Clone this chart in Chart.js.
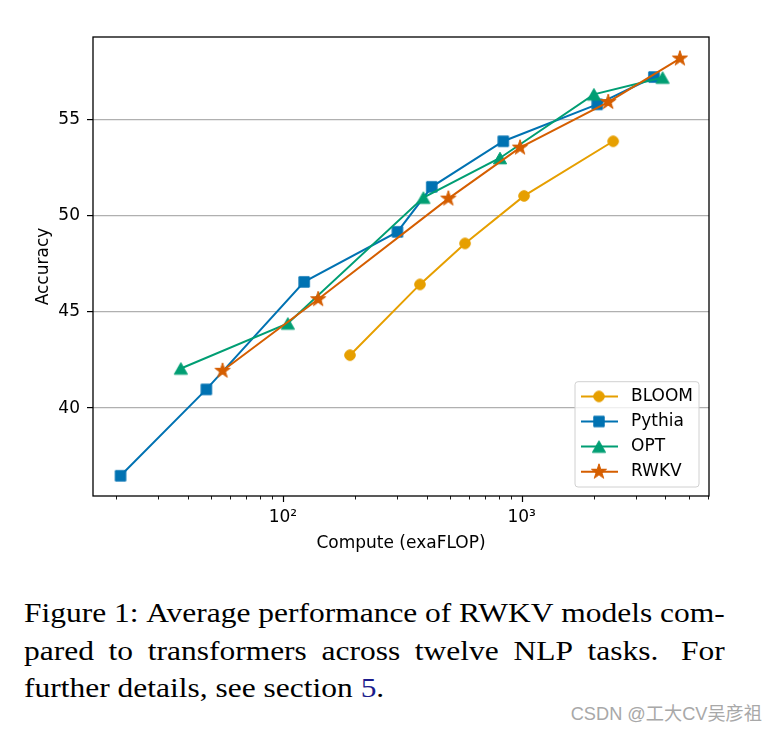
<!DOCTYPE html>
<html><head><meta charset="utf-8">
<script src="https://cdn.jsdelivr.net/npm/chart.js@4.4.0/dist/chart.umd.min.js"></script>
<style>
html,body{margin:0;padding:0;background:#fff;}
body{width:779px;height:734px;position:relative;overflow:hidden;}
#c{position:absolute;left:0;top:0;}
#cap{position:absolute;left:24px;top:594px;width:612px;font-family:'Liberation Serif','Times New Roman',serif;font-size:27.5px;line-height:37.7px;color:#000;transform:scaleX(1.145);transform-origin:0 0;}
#cap .j{display:flex;justify-content:space-between;white-space:nowrap;}
#cap .l{white-space:nowrap;}
#wm{position:absolute;right:17px;top:703px;font-family:'Liberation Sans','Noto Sans CJK SC',sans-serif;font-size:18.2px;line-height:22px;color:#a8a8a8;white-space:nowrap;}
</style>
</head><body>
<canvas id="c" width="779" height="560"></canvas>
<div id="cap">
<div class="j"><span>Figure</span><span>1:</span><span>Average</span><span>performance</span><span>of</span><span>RWKV</span><span>models</span><span>com-</span></div>
<div class="j"><span>pared</span><span>to</span><span>transformers</span><span>across</span><span>twelve</span><span>NLP</span><span>tasks.&nbsp;</span><span>For</span></div>
<div class="l">further details, see section <span style="color:#1c1c8c">5</span>.</div>
</div>
<div id="wm">CSDN @工大CV吴彦祖</div>
<script>
// ---- data ----
const seriesNames = ['BLOOM', 'Pythia', 'OPT', 'RWKV'];
const bloomX = [191, 375, 579, 1023, 2416];
const bloomY = [42.75, 46.43, 48.56, 51.03, 53.87];
const pythiaX = [20.9, 47.8, 122.8, 301.7, 420.2, 837.5, 2071, 3577];
const pythiaY = [36.48, 40.97, 46.56, 49.16, 51.50, 53.87, 55.79, 57.21];
const optX = [37.4, 104.9, 387.6, 811, 2006, 3890];
const optY = [42.06, 44.40, 50.94, 53.00, 56.31, 57.18];
const rwkvX = [55.9, 140.5, 493, 984, 2303, 4596];
const rwkvY = [41.94, 45.66, 50.89, 53.54, 55.91, 58.17];
const yTicks = [40, 45, 50, 55];
const xMajorTicks = [100, 1000];
const xTickLabels = ['10²', '10³'];
const xMinorTicks = [20, 30, 40, 50, 60, 70, 80, 90, 200, 300, 400, 500, 600, 700, 800, 900, 2000, 3000, 4000, 5000, 6000];
const xLimits = [16.03, 6086];
const yLimits = [35.43, 59.29];
const xTitle = 'Compute (exaFLOP)';
const yTitle = 'Accuracy';

// ---- styles ----
const colors = ['#E69F00', '#0072B2', '#009E73', '#D55E00'];
const shapes = ['circle', 'square', 'triangle', 'star'];

function makeMarker(shape, color) {
  const S = 20;
  const cv = document.createElement('canvas');
  cv.width = S; cv.height = S;
  const g = cv.getContext('2d');
  const c = S / 2;
  g.fillStyle = color; g.strokeStyle = color; g.lineWidth = 1; g.lineJoin = 'miter';
  g.beginPath();
  if (shape === 'circle') {
    g.arc(c, c, 5.3, 0, Math.PI * 2);
  } else if (shape === 'square') {
    g.rect(c - 5.2, c - 5.2, 10.4, 10.4);
  } else if (shape === 'triangle') {
    const w = 6.6, h = 5.8;
    g.moveTo(c, c - h); g.lineTo(c + w, c + h); g.lineTo(c - w, c + h); g.closePath();
  } else {
    const R = 8, r = R * 0.382;
    for (let i = 0; i < 10; i++) {
      const ang = -Math.PI / 2 + i * Math.PI / 5;
      const rr = i % 2 === 0 ? R : r;
      const px = c + rr * Math.cos(ang), py = c + rr * Math.sin(ang);
      if (i === 0) g.moveTo(px, py); else g.lineTo(px, py);
    }
    g.closePath();
  }
  g.fill(); g.stroke();
  return cv;
}
const markers = shapes.map((s, i) => makeMarker(s, colors[i]));

const xsAll = [bloomX, pythiaX, optX, rwkvX];
const ysAll = [bloomY, pythiaY, optY, rwkvY];

const datasets = seriesNames.map((name, i) => ({
  label: name,
  data: xsAll[i].map((v, k) => ({ x: v, y: ysAll[i][k] })),
  borderColor: colors[i],
  backgroundColor: colors[i],
  borderWidth: 2,
  pointStyle: markers[i],
  pointRadius: 6,
  pointHoverRadius: 6,
  tension: 0,
  order: 3 - i
}));

const framePlugin = {
  id: 'frame',
  afterDatasetsDraw(chart) {
    const { ctx, chartArea: a, scales: { x } } = chart;
    ctx.save();
    ctx.strokeStyle = '#000';
    ctx.lineWidth = 0.9;
    xMinorTicks.forEach(v => {
      const p = Math.round(x.getPixelForValue(v)) + 0.5;
      ctx.beginPath(); ctx.moveTo(p, a.bottom); ctx.lineTo(p, a.bottom + 3.5); ctx.stroke();
    });
    ctx.lineWidth = 1.2;
    xMajorTicks.forEach(v => {
      const p = Math.round(x.getPixelForValue(v)) + 0.5;
      ctx.beginPath(); ctx.moveTo(p, a.bottom); ctx.lineTo(p, a.bottom + 6); ctx.stroke();
    });
    ctx.lineWidth = 1.3;
    ctx.strokeRect(a.left, a.top, a.right - a.left, a.bottom - a.top);

    // legend
    const w = 124, h = 105.3;
    const bx = a.right - 10 - w, by = a.bottom - 9 - h;
    ctx.beginPath();
    ctx.roundRect(bx, by, w, h, 3);
    ctx.fillStyle = 'rgba(255,255,255,0.8)';
    ctx.fill();
    ctx.strokeStyle = '#d0d0d0';
    ctx.lineWidth = 1;
    ctx.stroke();
    ctx.font = '17px "DejaVu Sans"';
    ctx.textBaseline = 'middle';
    ctx.textAlign = 'left';
    seriesNames.forEach((name, i) => {
      const ry = by + 14.7 + i * 25.1;
      ctx.strokeStyle = colors[i];
      ctx.lineWidth = 2;
      ctx.beginPath(); ctx.moveTo(bx + 6, ry); ctx.lineTo(bx + 43, ry); ctx.stroke();
      const m = markers[i];
      ctx.drawImage(m, bx + 24 - m.width / 2, ry - m.height / 2);
      ctx.fillStyle = '#000';
      ctx.fillText(name, bx + 56, ry);
    });
    ctx.restore();
  }
};

Chart.defaults.font.family = "'DejaVu Sans', sans-serif";
Chart.defaults.color = '#000';

new Chart(document.getElementById('c'), {
  type: 'line',
  data: { datasets },
  plugins: [framePlugin],
  options: {
    responsive: false,
    animation: false,
    events: [],
    layout: { padding: { top: 37, right: 70, left: 0, bottom: 0 } },
    plugins: { legend: { display: false }, tooltip: { enabled: false } },
    scales: {
      x: {
        type: 'logarithmic',
        min: xLimits[0], max: xLimits[1],
        afterBuildTicks: s => {
          s.ticks = [...xMinorTicks, ...xMajorTicks].sort((p, q) => p - q).map(v => ({ value: v }));
        },
        ticks: {
          autoSkip: false, maxRotation: 0, padding: 11,
          font: { size: 17 }, color: '#000',
          callback: v => { const i = xMajorTicks.indexOf(v); return i >= 0 ? xTickLabels[i] : ''; }
        },
        grid: { display: false, drawTicks: false },
        border: { display: false },
        title: { display: true, text: xTitle, font: { size: 17 }, color: '#000', padding: { top: 0, bottom: 6 } },
        afterFit: s => { s.height = 64; }
      },
      y: {
        type: 'linear',
        min: yLimits[0], max: yLimits[1],
        afterBuildTicks: s => { s.ticks = yTicks.map(v => ({ value: v })); },
        ticks: { padding: 7, font: { size: 17 }, color: '#000', autoSkip: false },
        grid: { color: '#b0b0b0', lineWidth: 1.2, tickColor: '#000', tickLength: 6, tickWidth: 1.2, drawTicks: true },
        border: { display: false },
        title: { display: true, text: yTitle, font: { size: 17 }, color: '#000', padding: { top: 33, bottom: 0 } },
        afterFit: s => { s.width = 93; }
      }
    }
  }
});
</script>
</body></html>
